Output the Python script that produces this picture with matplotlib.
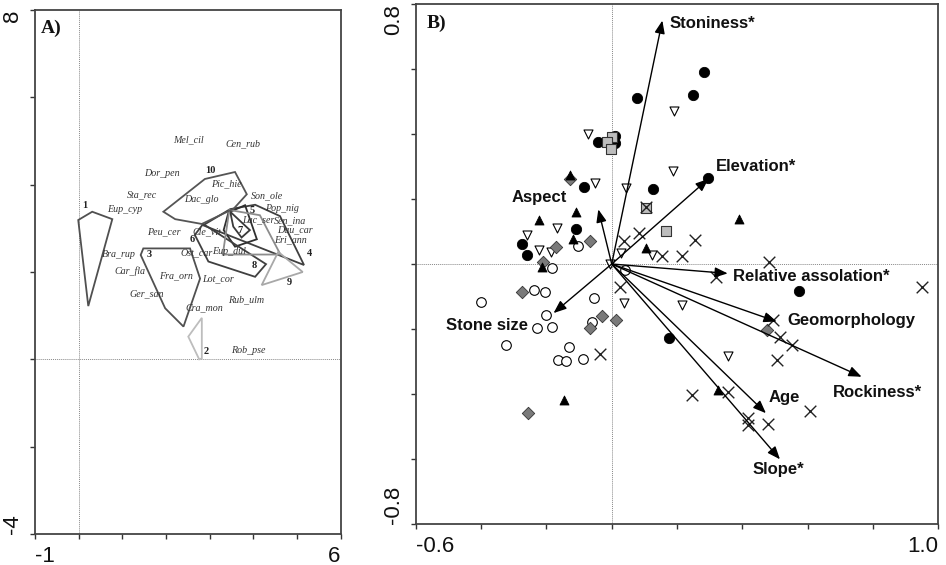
import matplotlib
matplotlib.use('Agg')
import matplotlib.pyplot as plt

plt.rcParams['font.family'] = ['Liberation Sans', 'DejaVu Sans']

# ---------------- Panel A data ----------------
species = ['Mel_cil', 'Cen_rub', 'Dor_pen', 'Pic_hie', 'Sta_rec', 'Dac_glo', 'Son_ole',
           'Eup_cyp', 'Pop_nig', 'Lac_ser', 'Sen_ina', 'Dau_car', 'Peu_cer', 'Cle_vit',
           'Eri_ann', 'Bra_rup', 'Ost_car', 'Eup_dul', 'Car_fla', 'Fra_orn', 'Lot_cor',
           'Ger_san', 'Rub_ulm', 'Cra_mon', 'Rob_pse']
species_x = [2.51, 3.76, 1.90, 3.39, 1.44, 2.82, 4.31, 1.06, 4.65, 4.11, 4.84, 4.95, 1.95, 2.93,
             4.84, 0.91, 2.70, 3.45, 1.18, 2.24, 3.20, 1.56, 3.83, 2.87, 3.88]
species_y = [5.02, 4.93, 4.26, 4.01, 3.76, 3.65, 3.74, 3.43, 3.46, 3.19, 3.17, 2.96, 2.92, 2.92,
             2.73, 2.41, 2.44, 2.46, 2.01, 1.91, 1.85, 1.50, 1.36, 1.17, 0.21]

group_ids = ['1', '2', '3', '4', '5', '6', '7', '8', '9', '10']
group_x = [0.13, 2.93, 1.62, 5.28, 3.98, 2.59, 3.69, 4.02, 4.82, 3.01]
group_y = [3.53, 0.19, 2.39, 2.43, 3.40, 2.75, 2.96, 2.16, 1.75, 4.32]

hull_1 = [(-0.01, 3.19), (0.31, 3.38), (0.77, 3.21), (0.22, 1.22)]
hull_2 = [(2.51, 0.52), (2.82, 0.95), (2.82, 0.02), (2.76, 0.0)]
hull_3 = [(1.48, 2.54), (2.55, 2.54), (2.78, 1.85), (2.40, 0.75), (1.98, 1.17), (1.42, 2.39)]
hull_4 = [(2.85, 3.07), (3.47, 3.44), (4.04, 3.54), (4.61, 3.28), (5.16, 2.16)]
hull_5 = [(3.43, 3.36), (3.81, 3.53), (4.08, 2.75), (3.58, 2.58), (3.32, 2.96)]
hull_6 = [(2.66, 2.85), (2.97, 2.24), (4.04, 1.89), (4.29, 2.18), (2.85, 3.10)]
hull_7 = [(3.47, 3.38), (3.92, 2.96), (3.73, 2.79), (3.54, 3.04)]
hull_8 = [(3.45, 3.42), (3.30, 2.40), (4.62, 2.40), (4.15, 3.30)]
hull_9 = [(4.19, 1.70), (4.57, 2.46), (5.13, 2.00)]
hull_10 = [(1.94, 3.38), (2.21, 3.21), (2.82, 3.10), (3.55, 3.45), (3.85, 3.78),
           (3.58, 4.29), (2.89, 4.13)]
hulls = [hull_1, hull_2, hull_3, hull_4, hull_5, hull_6, hull_7, hull_8, hull_9, hull_10]
hull_colors = ['#505050', '#bdbdbd', '#505050', '#404040', '#303030', '#404040',
               '#3a3a3a', '#8c8c8c', '#a8a8a8', '#555555']

# ---------------- Panel B data ----------------
black_circle_x = [0.283, 0.078, 0.250, 0.010, 0.010, -0.041, -0.085, 0.126, 0.296, -0.110,
                  -0.275, -0.260, 0.574, 0.176]
black_circle_y = [0.591, 0.510, 0.519, 0.394, 0.372, 0.374, 0.236, 0.230, 0.264, 0.108,
                  0.061, 0.028, -0.083, -0.227]

gray_square_x = [0.002, -0.015, -0.003, 0.105, 0.166]
gray_square_y = [0.390, 0.374, 0.353, 0.171, 0.102]

cross_x = [0.105, 0.038, 0.085, 0.153, 0.214, 0.255, 0.482, 0.319, 0.949, 0.493, 0.515,
           0.551, 0.505, 0.245, 0.357, 0.607, 0.418, 0.418, 0.479, 0.025, -0.036]
cross_y = [0.174, 0.072, 0.096, 0.025, 0.025, 0.074, 0.007, -0.039, -0.070, -0.172, -0.224,
           -0.249, -0.295, -0.403, -0.393, -0.452, -0.475, -0.495, -0.492, -0.070, -0.277]

open_circle_x = [-0.104, -0.184, 0.041, -0.400, -0.238, -0.204, -0.053, -0.201, -0.228,
                 -0.182, -0.061, -0.324, -0.130, -0.165, -0.140, -0.087]
open_circle_y = [0.055, -0.011, -0.018, -0.118, -0.080, -0.085, -0.106, -0.157, -0.198,
                 -0.195, -0.178, -0.249, -0.256, -0.295, -0.298, -0.292]

down_tri_x = [0.192, -0.072, 0.187, -0.051, 0.044, 0.028, 0.122, -0.005, -0.166, -0.260,
              -0.222, -0.187, 0.357, 0.214, 0.038]
down_tri_y = [0.472, 0.400, 0.286, 0.250, 0.233, 0.035, 0.028, 0.000, 0.110, 0.089,
              0.043, 0.038, -0.283, -0.126, -0.119]

black_tri_x = [-0.128, -0.223, -0.110, -0.119, -0.212, 0.105, 0.390, 0.324, -0.146]
black_tri_y = [0.274, 0.135, 0.161, 0.077, -0.008, 0.048, 0.137, -0.388, -0.418]

diamond_x = [-0.128, -0.066, -0.170, -0.209, -0.274, -0.031, 0.013, -0.066, -0.255, 0.476]
diamond_y = [0.261, 0.071, 0.051, 0.007, -0.085, -0.160, -0.172, -0.198, -0.459, -0.203]

variables = ['Stoniness*', 'Elevation*', 'Aspect', 'Relative assolation*', 'Stone size',
             'Geomorphology', 'Rockiness*', 'Age', 'Slope*']
arrow_x = [0.155, 0.296, -0.041, 0.355, -0.178, 0.505, 0.765, 0.472, 0.515]
arrow_y = [0.749, 0.262, 0.168, -0.029, -0.151, -0.177, -0.347, -0.459, -0.601]
label_x = [0.176, 0.320, -0.221, 0.372, -0.255, 0.5375, 0.676, 0.479, 0.432]
label_y = [0.741, 0.299, 0.204, -0.039, -0.188, -0.174, -0.396, -0.410, -0.633]
label_ha = ['left', 'left', 'center', 'left', 'right', 'left', 'left', 'left', 'left']

# ---------------- Figure ----------------
fig = plt.figure(figsize=(9.46, 5.65), dpi=100)
fig.patch.set_facecolor('white')
axA = fig.add_axes([35 / 946, 31 / 565, 305.7 / 946, 524 / 565])
axB = fig.add_axes([415.7 / 946, 41 / 565, 522.7 / 946, 520 / 565])


def style_axes(ax, xt, yt, xlab, ylab):
    for s in ax.spines.values():
        s.set_color('#444444')
        s.set_linewidth(1.3)
    ax.set_xticks(xt, xlab)
    ax.set_yticks(yt, ylab)
    ax.tick_params(direction='out', length=3.5, width=1.0, color='#333333',
                   labelsize=16, labelcolor='#111111', pad=5)
    xl = ax.get_xticklabels()
    xl[0].set_ha('left')
    xl[-1].set_ha('right')
    yl = ax.get_yticklabels()
    for t in yl:
        t.set_rotation(90)
    yl[0].set_va('bottom')
    yl[-1].set_va('top')


# Panel A
axA.set_xlim(-1, 6)
axA.set_ylim(-4, 8)
axA.axvline(0, color='#888888', lw=0.7, ls=(0, (1, 1)), zorder=1)
axA.axhline(0, color='#888888', lw=0.7, ls=(0, (1, 1)), zorder=1)
for h, c in zip(hulls, hull_colors):
    axA.add_patch(plt.Polygon(h, closed=True, fill=False, edgecolor=c, lw=1.3, zorder=2))
for name, x, y in zip(species, species_x, species_y):
    axA.text(x, y, name, fontsize=7.2, style='italic', family='Liberation Serif',
             color='#333333', ha='center', va='center', zorder=3)
for g, x, y in zip(group_ids, group_x, group_y):
    axA.text(x, y, g, fontsize=7.5, weight='bold', family='Liberation Serif',
             color='#222222', ha='center', va='center', zorder=3)
axA.text(-0.87, 7.59, 'A)', fontsize=14, weight='bold', family='Liberation Serif',
         ha='left', va='center', color='#111111')
style_axes(axA, list(range(-1, 7)), list(range(-4, 9, 2)),
           ['-1', '', '', '', '', '', '', '6'], ['-4', '', '', '', '', '', '8'])

# Panel B
axB.set_xlim(-0.6, 1.0)
axB.set_ylim(-0.8, 0.8)
axB.axvline(0, color='#888888', lw=0.7, ls=(0, (1, 1)), zorder=1)
axB.axhline(0, color='#888888', lw=0.7, ls=(0, (1, 1)), zorder=1)

axB.scatter(open_circle_x, open_circle_y, s=48, marker='o', facecolor='white',
            edgecolor='black', lw=0.8, zorder=3)
axB.scatter(down_tri_x, down_tri_y, s=42, marker='v', facecolor='white',
            edgecolor='black', lw=0.8, zorder=3)
axB.scatter(diamond_x, diamond_y, s=40, marker='D', facecolor='#7a7a7a',
            edgecolor='#333333', lw=0.6, zorder=3)
axB.scatter(black_circle_x, black_circle_y, s=55, marker='o', facecolor='black',
            edgecolor='black', lw=0.6, zorder=3)
axB.scatter(gray_square_x, gray_square_y, s=55, marker='s', facecolor='#bdbdbd',
            edgecolor='#333333', lw=0.8, zorder=4)
axB.scatter(black_tri_x, black_tri_y, s=42, marker='^', facecolor='black',
            edgecolor='black', lw=0.6, zorder=4)
axB.scatter(cross_x, cross_y, s=70, marker='x', color='#222222', lw=1.0, zorder=4)

for name, ax_, ay_, lx, ly, ha in zip(variables, arrow_x, arrow_y, label_x, label_y, label_ha):
    axB.annotate('', xy=(ax_, ay_), xytext=(0, 0),
                 arrowprops=dict(arrowstyle='-|>,head_length=0.55,head_width=0.22',
                                 color='black', lw=1.0, shrinkA=0, shrinkB=0,
                                 mutation_scale=14), zorder=5)
    axB.text(lx, ly, name, fontsize=12, weight='bold', ha=ha, va='center',
             color='#111111', zorder=6)

axB.text(-0.565, 0.74, 'B)', fontsize=14, weight='bold', family='Liberation Serif',
         ha='left', va='center', color='#111111')
bx = [-0.6 + 0.2 * i for i in range(9)]
by = [-0.8 + 0.2 * i for i in range(9)]
style_axes(axB, bx, by, ['-0.6'] + [''] * 7 + ['1.0'], ['-0.8'] + [''] * 7 + ['0.8'])

fig.savefig('out.png', dpi=100, facecolor='white')
